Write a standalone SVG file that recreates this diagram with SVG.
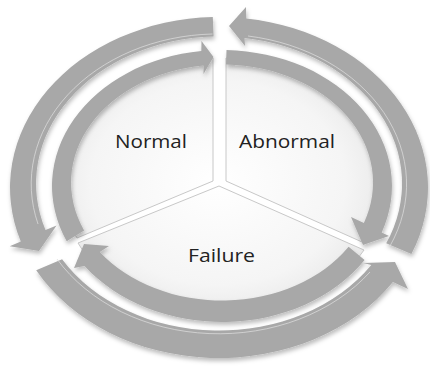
<svg xmlns="http://www.w3.org/2000/svg" width="430" height="374" viewBox="0 0 430 374">
  <style>
    .sector { stroke: #c8c8c8; stroke-width: 1; }
    .arrow { fill: #a8a8a8; filter: url(#sh); }
    .crease { fill: none; stroke: #dcdcdc; stroke-width: 1; opacity: 0.75; }
    .label { font-family: "Open Sans", "Noto Sans", "Liberation Sans", sans-serif; font-size: 18.5px; fill: #222222; text-anchor: start; }
  </style>
  <defs>
    <radialGradient id="pie" cx="218" cy="183" r="170" gradientUnits="userSpaceOnUse" gradientTransform="translate(218 183) scale(1 0.8) translate(-218 -183)">
      <stop offset="0" stop-color="#ffffff"/>
      <stop offset="0.75" stop-color="#f5f5f5"/>
      <stop offset="1" stop-color="#e9e9e9"/>
    </radialGradient>
    <filter id="sh" x="-10%" y="-10%" width="120%" height="125%">
      <feDropShadow dx="1" dy="3" stdDeviation="2" flood-color="#000" flood-opacity="0.26"/>
    </filter>
  </defs>
  <rect width="430" height="374" fill="#ffffff"/>

  <g id="normal">
    <path class="sector" fill="url(#pie)" d="M213,181 L213,58 A160,127 0 0 0 77,238 Z"/>
    <text class="label" x="115" y="147.5" textLength="72" lengthAdjust="spacingAndGlyphs">Normal</text>
  </g>
  <g id="abnormal">
    <path class="sector" fill="url(#pie)" d="M226,181 L226,58 A160,127 0 0 1 362,242 Z"/>
    <text class="label" x="239" y="147.5" textLength="96" lengthAdjust="spacingAndGlyphs">Abnormal</text>
  </g>
  <g id="failure">
    <path class="sector" fill="url(#pie)" d="M219,186 L364,250 A160,127 0 0 1 78,243 Z"/>
    <text class="label" x="188" y="262.3" textLength="67" lengthAdjust="spacingAndGlyphs">Failure</text>
  </g>

  <g id="connectors">
    <!-- inner ring, clockwise -->
    <path class="arrow" d="M66.7,241.3 A170,136 0 0 1 201.3,51 L201.5,41 L213.5,57 L203.5,74 L203.6,65.4 A151,118 0 0 0 84.1,230.5 Z"/>
    <path class="arrow" d="M226.5,50 A170,136 0 0 1 381.7,232.5 L389,236 L363,245 L351,217 L363.9,222.9 A151,118 0 0 0 226,64.5 Z"/>
    <path class="arrow" d="M364.6,260.1 A170,136 0 0 1 84.5,265.9 L74,268 L84,244 L109,246 L99.8,251.9 A151,118 0 0 0 348.6,246.8 Z"/>
    <!-- outer ring, counterclockwise -->
    <path class="arrow" d="M212.8,17.1 A209,170.5 0 0 0 20.8,241.6 L9.7,246.2 L39,251 L56.6,225.5 L45.5,230.1 A183,147 0 0 1 213.6,36.6 Z"/>
    <path class="arrow" d="M36.2,270.2 A209,170.5 0 0 0 392.9,282.1 L408,289 L395,262 L363,263 L371.3,265.1 A183,147 0 0 1 62.1,259.2 Z"/>
    <path class="arrow" d="M411.4,254.1 A209,170.5 0 0 0 246.3,18.5 L246,7 L229,26 L245,46 L244.5,37.9 A183,147 0 0 1 386.2,243.3 Z"/>
    <!-- light creases along the outer bands -->
    <path class="crease" d="M212.5,34 A187,150 0 0 0 38,224"/>
    <path class="crease" d="M57,259 A187,150 0 0 0 370,272"/>
    <path class="crease" d="M390,246 A187,150 0 0 0 248,36"/>
  </g>
</svg>
